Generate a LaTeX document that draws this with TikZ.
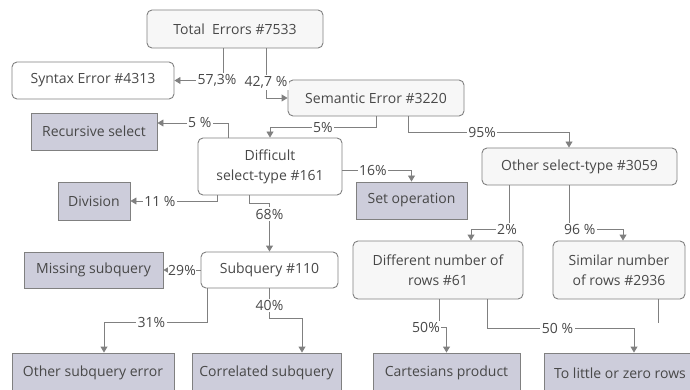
\documentclass[tikz,border=0pt]{standalone}
\usepackage{fontspec}
\setmainfont{Open Sans}
\usetikzlibrary{arrows.meta}
\definecolor{ln}{RGB}{128,128,128}
\definecolor{txt}{RGB}{72,72,72}
\definecolor{leaffill}{RGB}{205,205,219}
\definecolor{softfill}{RGB}{247,247,247}
\tikzset{
  box/.style={draw=ln, line width=0.9pt, text=txt, font=\fontsize{14}{20}\selectfont, align=center, inner sep=0pt},
  rbox/.style={box, rounded corners=5pt, fill=softfill},
  wbox/.style={box, rounded corners=5pt, fill=white},
  leaf/.style={box, fill=leaffill},
  conn/.style={draw=ln, line width=0.9pt},
  arr/.style={conn, -{Triangle[width=7pt,length=6pt]}},
  lbl/.style={fill=white, text=txt, font=\fontsize{14}{16}\selectfont, inner sep=1.5pt}
}
\begin{document}
\begin{tikzpicture}[x=1pt,y=-1pt]
\useasboundingbox (0,0) rectangle (690,390);
% nodes
\node[rbox, minimum width=176pt, minimum height=38pt] (total) at (235,29) {Total\ \ Errors \#7533};
\node[wbox, minimum width=162pt, minimum height=37pt] (syntax) at (93,80.5) {Syntax Error \#4313};
\node[rbox, minimum width=176pt, minimum height=36pt] (semantic) at (376,98) {Semantic Error \#3220};
\node[leaf, minimum width=126pt, minimum height=37pt] (recursive) at (94,131.5) {Recursive select};
\node[wbox, minimum width=144pt, minimum height=57pt] (difficult) at (270,166.5) {Difficult\\select-type \#161};
\node[leaf, minimum width=72pt, minimum height=38pt] (division) at (94,201) {Division};
\node[leaf, minimum width=111pt, minimum height=37pt] (setop) at (411.5,200.5) {Set operation};
\node[rbox, minimum width=195pt, minimum height=37pt] (other) at (579.5,166.5) {Other select-type \#3059};
\node[rbox, minimum width=170pt, minimum height=58pt] (different) at (438,270) {Different number of\\rows \#61};
\node[rbox, minimum width=132pt, minimum height=58pt] (similar) at (619,270) {Similar number\\of rows \#2936};
\node[leaf, minimum width=139pt, minimum height=36pt] (missing) at (93.5,270) {Missing subquery};
\node[wbox, minimum width=137pt, minimum height=36pt] (subquery) at (269.5,270) {Subquery \#110};
\node[leaf, minimum width=162pt, minimum height=40pt] (othersub) at (93,373) {Other subquery error};
\node[leaf, minimum width=149pt, minimum height=40pt] (correlated) at (266.5,373) {Correlated subquery};
\node[leaf, minimum width=147pt, minimum height=40pt] (cartesian) at (446.5,373) {Cartesians product};
\node[leaf, minimum width=152pt, minimum height=40pt] (tolittle) at (620,373) {To little or zero rows};
% connectors
\draw[arr] ([xshift=-12pt]total.south) |- node[lbl, pos=0.5, xshift=-6pt]{57,3\%} (syntax.east);
\draw[arr] ([xshift=31pt]total.south) |- node[lbl, pos=0.34]{42,7 \%} (semantic.west);
\draw[arr] (semantic.south) -- ++(0,11) -| node[lbl, pos=0.25]{5\%} (difficult.north);
\draw[arr] ([xshift=32pt]semantic.south) -- ++(0,16) -| node[lbl, pos=0.23]{95\%} ([xshift=-10.5pt]other.north);
\draw[arr] ([xshift=-42pt]difficult.north) |- node[lbl, pos=0.70]{5 \%} ([yshift=8.5pt]recursive.east);
\draw[arr] ([xshift=-53pt]difficult.south) |- node[lbl, pos=0.83]{11 \%} (division.east);
\draw[arr] ([yshift=-3.5pt]difficult.east) -| node[lbl, pos=0.22]{16\%} (setop.north);
\draw[arr] ([xshift=-21pt]difficult.south) -- ++(0,8) -| node[lbl, pos=0.61]{68\%} (subquery.north);
\draw[arr] ([xshift=-70.5pt]other.south) -- ++(0,44) -| node[lbl, pos=0, xshift=-2pt]{2\%} ([xshift=33pt]different.north);
\draw[arr] ([xshift=-10.5pt]other.south) -- ++(0,44) -| node[lbl, pos=0.1]{96 \%} ([xshift=4pt]similar.north);
\draw[arr] ([xshift=1pt]different.south) -- ++(0,28) -| node[lbl, pos=0, xshift=-13pt]{50\%} (cartesian.north);
\draw[arr] ([xshift=49pt]different.south) -- ++(0,29) -| node[lbl, pos=0.24]{50 \%} ([xshift=14pt]tolittle.north);
\coordinate (simend) at ([xshift=39pt, yshift=-24pt]similar.south);
\draw[conn] ([xshift=39pt]similar.south) -- (simend);
\draw[arr] (subquery.west) -- node[lbl, inner sep=0.5pt]{29\%} (missing.east);
\draw[arr] ([xshift=-62.5pt]subquery.south) -- ++(0,34) -| node[lbl, pos=0.27]{31\%} ([xshift=11pt]othersub.north);
\draw[arr] (subquery.south) -- node[lbl, pos=0.57]{40\%} ++(0,30) -| ([xshift=35.5pt]correlated.north);
\end{tikzpicture}
\end{document}
